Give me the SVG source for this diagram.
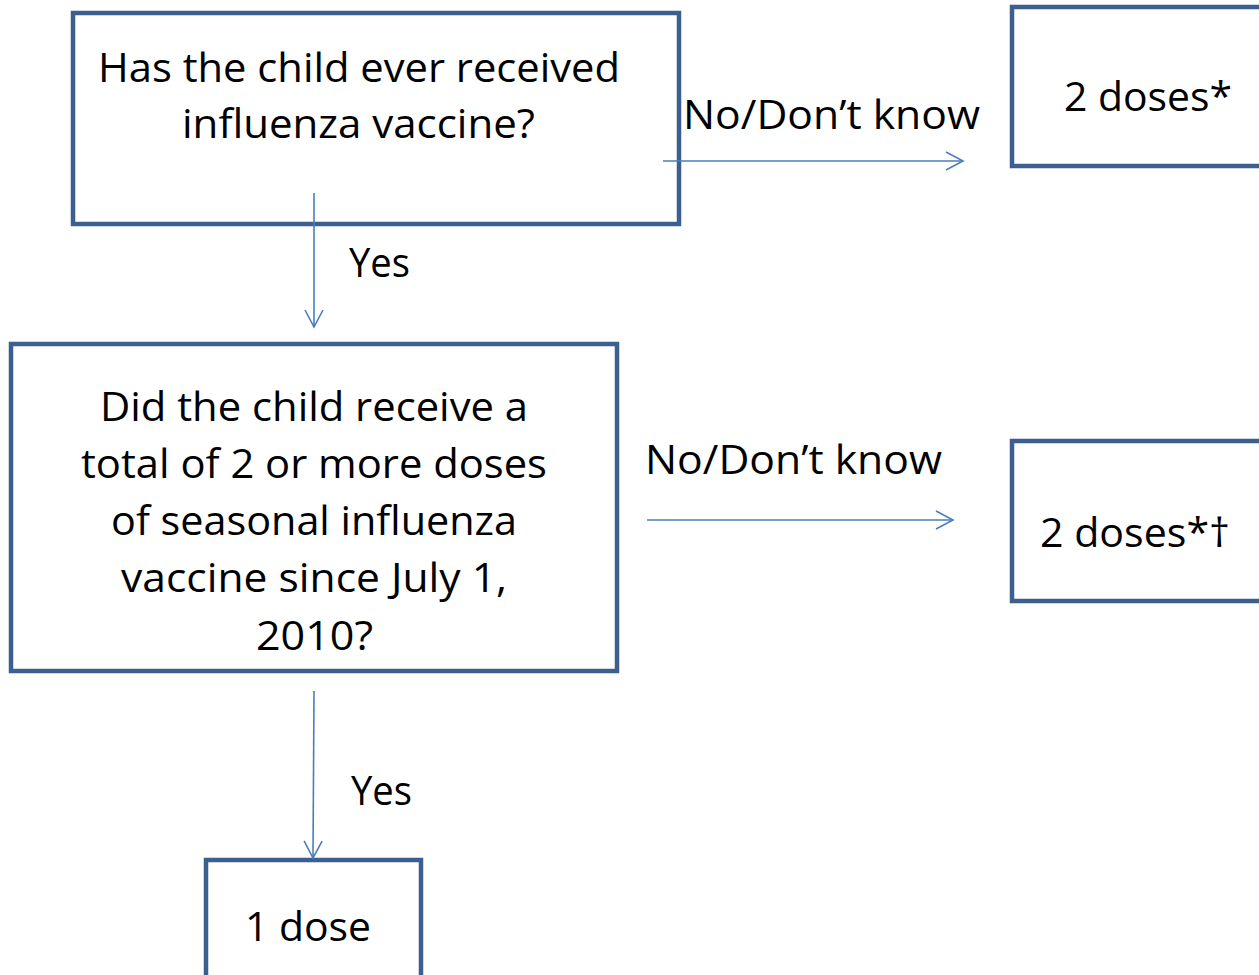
<svg xmlns="http://www.w3.org/2000/svg" width="1259" height="975" viewBox="0 0 1259 975">
<defs>
<style>
.box{fill:#ffffff;stroke:#3b5f8e;stroke-width:4.5}
.t{font-family:"Open Sans","Liberation Sans",Arial,sans-serif;font-size:41px;fill:#000;text-anchor:start}
.c{stroke:#4a7ebb;stroke-width:1.6;fill:none}
</style>
<marker id="arr" viewBox="0 0 20 20" refX="18" refY="10" markerWidth="20" markerHeight="20" markerUnits="userSpaceOnUse" orient="auto">
<path d="M1,1 L18,10 L1,19" fill="none" stroke="#4a7ebb" stroke-width="1.6"/>
</marker>
</defs>
<rect width="1259" height="975" fill="#ffffff"/>
<g id="q1">
<rect class="box" x="73" y="13" width="606" height="211"/>
<text class="t" x="98" y="82" textLength="522" lengthAdjust="spacingAndGlyphs">Has the child ever received</text>
<text class="t" x="182" y="138" textLength="353" lengthAdjust="spacingAndGlyphs">influenza vaccine?</text>
</g>
<g id="r1">
<rect class="box" x="1012" y="7" width="260" height="159"/>
<text class="t" x="1064" y="111" textLength="168" lengthAdjust="spacingAndGlyphs">2 doses*</text>
</g>
<g id="q2">
<rect class="box" x="11" y="344" width="606" height="327"/>
<text class="t" x="100" y="421" textLength="428" lengthAdjust="spacingAndGlyphs">Did the child receive a</text>
<text class="t" x="81" y="478" textLength="466" lengthAdjust="spacingAndGlyphs">total of 2 or more doses</text>
<text class="t" x="111" y="535" textLength="406" lengthAdjust="spacingAndGlyphs">of seasonal influenza</text>
<text class="t" x="121" y="592" textLength="386" lengthAdjust="spacingAndGlyphs">vaccine since July 1,</text>
<text class="t" x="256" y="650" textLength="117" lengthAdjust="spacingAndGlyphs">2010?</text>
</g>
<g id="r2">
<rect class="box" x="1012" y="441" width="260" height="160"/>
<text class="t" x="1040" y="547" textLength="190" lengthAdjust="spacingAndGlyphs">2 doses*†</text>
</g>
<g id="r3">
<rect class="box" x="206" y="860" width="215" height="140"/>
<text class="t" x="245" y="941" textLength="126" lengthAdjust="spacingAndGlyphs">1 dose</text>
</g>
<g id="connectors">
<line class="c" x1="663" y1="161" x2="963" y2="161" marker-end="url(#arr)"/>
<line class="c" x1="314" y1="193" x2="314" y2="327" marker-end="url(#arr)"/>
<line class="c" x1="647" y1="520" x2="953" y2="520" marker-end="url(#arr)"/>
<line class="c" x1="314" y1="691" x2="313" y2="858" marker-end="url(#arr)"/>
<text class="t" x="683" y="129" textLength="297" lengthAdjust="spacingAndGlyphs">No/Don’t know</text>
<text class="t" x="349" y="277" textLength="61" lengthAdjust="spacingAndGlyphs">Yes</text>
<text class="t" x="645" y="474" textLength="297" lengthAdjust="spacingAndGlyphs">No/Don’t know</text>
<text class="t" x="351" y="805" textLength="61" lengthAdjust="spacingAndGlyphs">Yes</text>
</g>
</svg>
